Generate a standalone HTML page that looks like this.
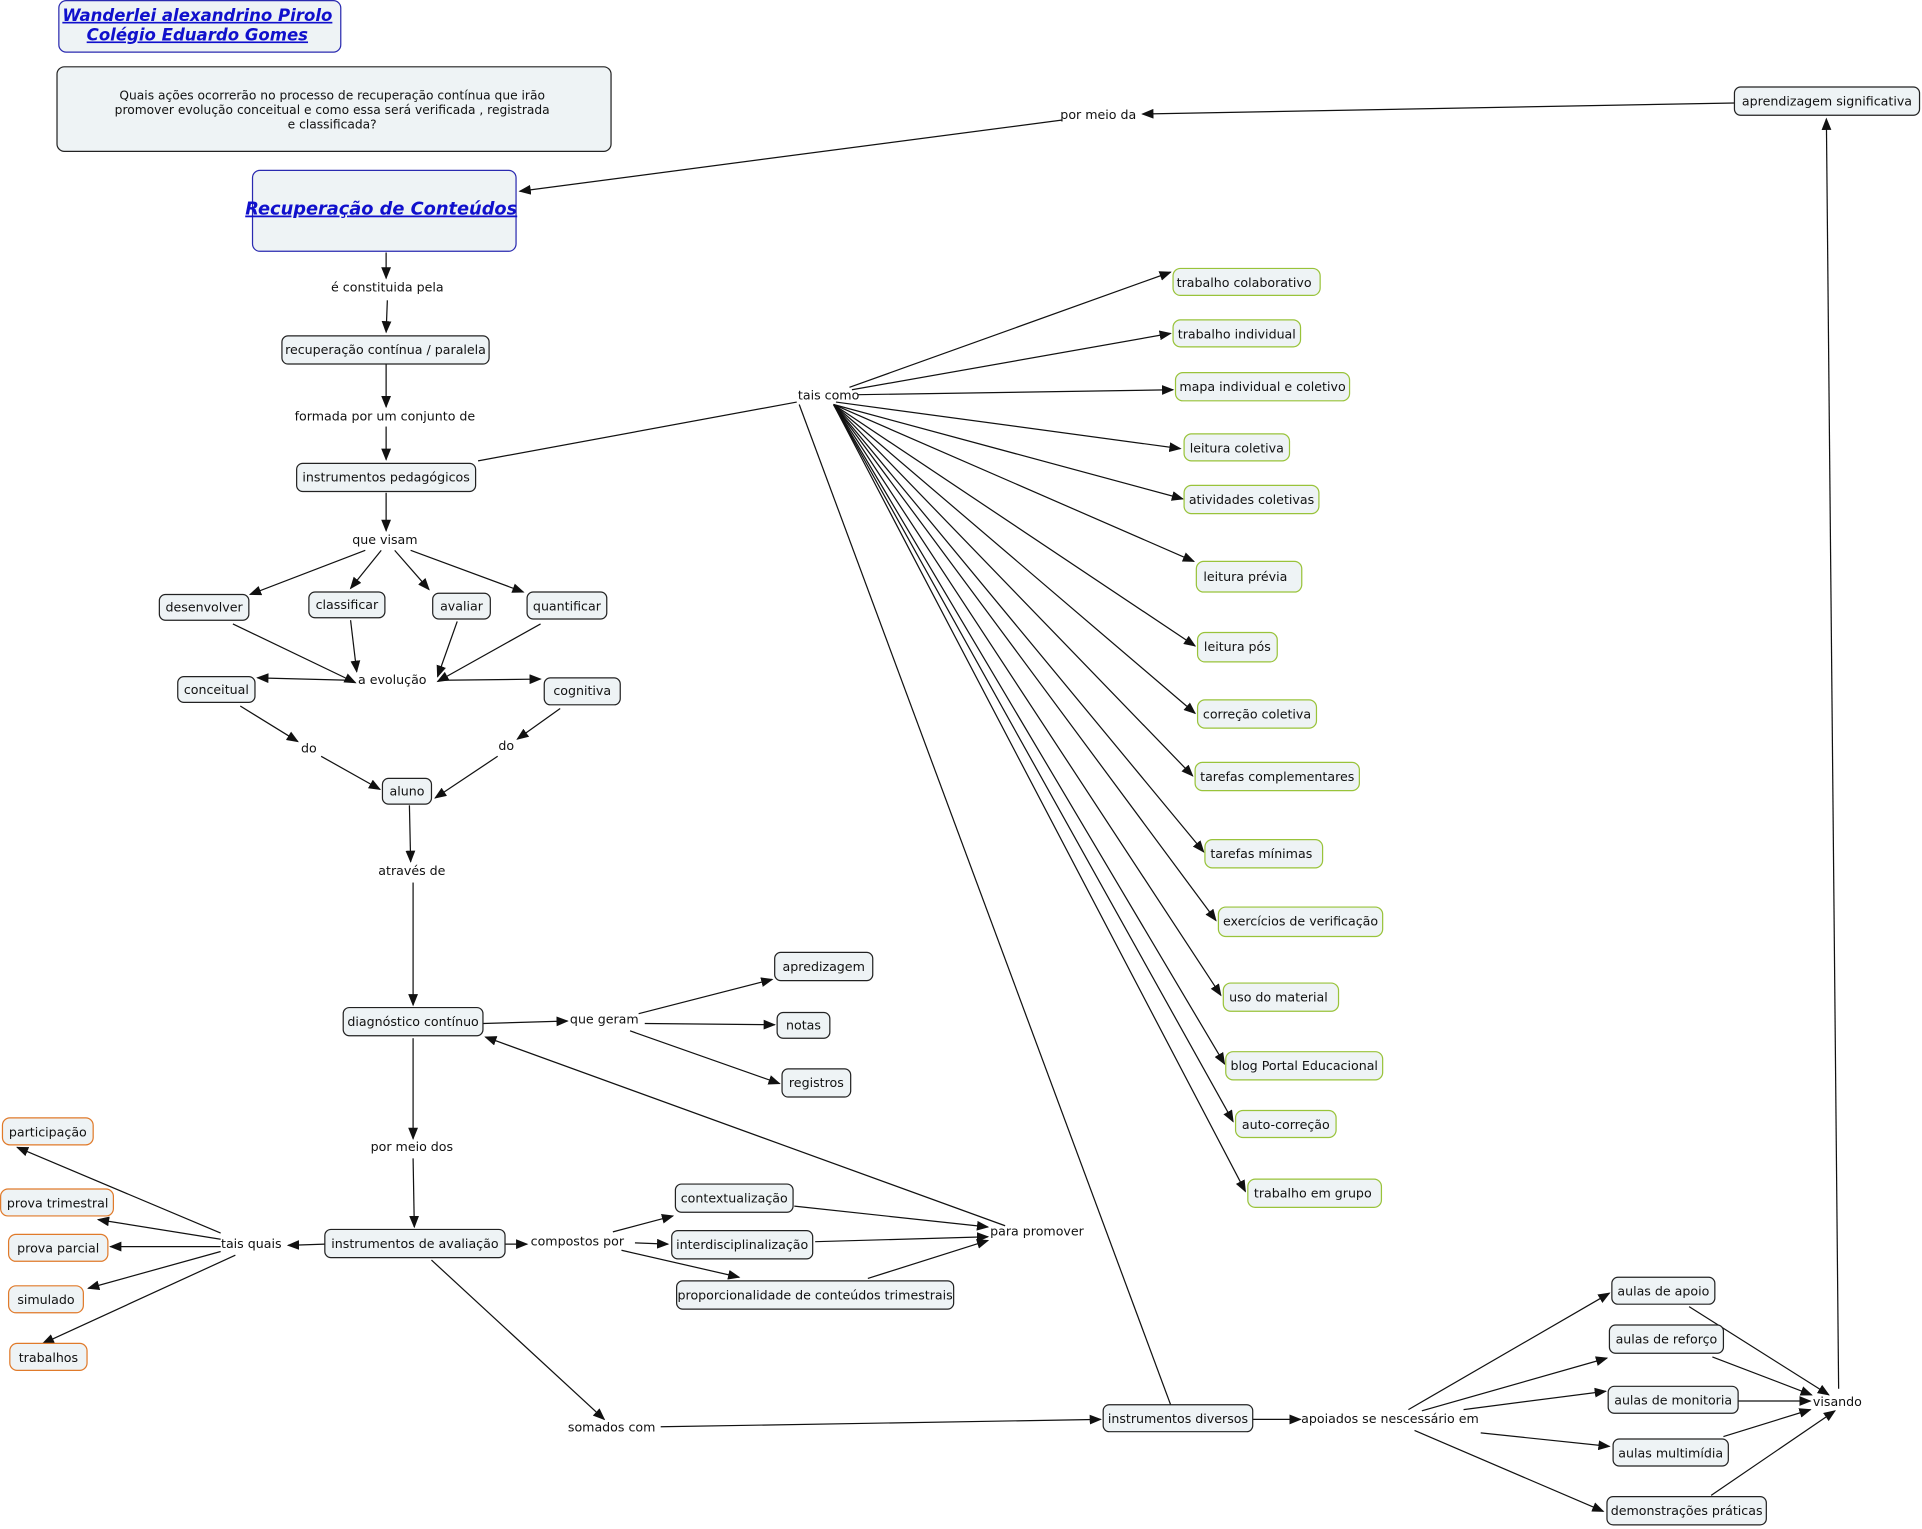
<!DOCTYPE html>
<html><head><meta charset="utf-8"><style>
html,body{margin:0;padding:0;background:#fff;}
svg{display:block;}
text{font-family:"DejaVu Sans","Liberation Sans",sans-serif;font-size:10.3px;fill:#111;}
.n{fill:#eef3f5;stroke:#222;stroke-width:1;}
.g{fill:#eef3f5;stroke:#99c33a;stroke-width:1;}
.o{fill:#eef3f5;stroke:#e07a2a;stroke-width:1;}
.b{fill:#eef3f5;stroke:#2a2ab0;stroke-width:1;}
line{stroke:#111;stroke-width:1;}
.a{marker-end:url(#ah);}
</style></head><body>
<svg width="1922" height="1529" viewBox="0 0 1568 1247.4" xmlns="http://www.w3.org/2000/svg">
<defs><marker id="ah" markerWidth="10" markerHeight="8" refX="9" refY="4" orient="auto" markerUnits="userSpaceOnUse"><path d="M0,0 L10,4 L0,8 z" fill="#111"/></marker></defs>
<g id="edges">
<line class="a" x1="1415" y1="84" x2="932" y2="93"/>
<line class="a" x1="866" y1="98" x2="424" y2="156"/>
<line class="a" x1="1500" y1="1133" x2="1490" y2="97"/>
<line class="a" x1="315" y1="206" x2="315" y2="227"/>
<line class="a" x1="316" y1="245" x2="315" y2="271"/>
<line class="a" x1="315" y1="297" x2="315" y2="332"/>
<line class="a" x1="315" y1="348" x2="315" y2="375"/>
<line class="a" x1="315" y1="402" x2="315" y2="433"/>
<line class="a" x1="298" y1="449" x2="204" y2="485"/>
<line class="a" x1="311" y1="449" x2="286" y2="480"/>
<line class="a" x1="322" y1="449" x2="350" y2="481"/>
<line class="a" x1="335" y1="449" x2="427" y2="483"/>
<line class="a" x1="190" y1="509" x2="290" y2="557"/>
<line class="a" x1="286" y1="506" x2="291" y2="548"/>
<line class="a" x1="373" y1="507" x2="357" y2="552"/>
<line class="a" x1="441" y1="509" x2="357" y2="556"/>
<line class="a" x1="285" y1="555" x2="210" y2="553"/>
<line class="a" x1="360" y1="555" x2="441" y2="554"/>
<line class="a" x1="196" y1="576" x2="243" y2="605"/>
<line class="a" x1="262" y1="617" x2="310" y2="644"/>
<line class="a" x1="457" y1="578" x2="422" y2="603"/>
<line class="a" x1="406" y1="617" x2="355" y2="651"/>
<line class="a" x1="334" y1="657" x2="335" y2="703"/>
<line class="a" x1="337" y1="720" x2="337" y2="820"/>
<line class="a" x1="394" y1="835" x2="463" y2="833"/>
<line class="a" x1="521" y1="827" x2="630" y2="799"/>
<line class="a" x1="526" y1="835" x2="632" y2="836"/>
<line class="a" x1="514" y1="841" x2="636" y2="884"/>
<line class="a" x1="337" y1="847" x2="337" y2="929"/>
<line class="a" x1="337" y1="945" x2="338" y2="1001"/>
<line class="a" x1="820" y1="1000" x2="396" y2="846"/>
<line class="a" x1="265" y1="1015" x2="235" y2="1016"/>
<line class="a" x1="180" y1="1006" x2="14" y2="936"/>
<line class="a" x1="180" y1="1011" x2="80" y2="995"/>
<line class="a" x1="180" y1="1017" x2="90" y2="1017"/>
<line class="a" x1="180" y1="1021" x2="72" y2="1051"/>
<line class="a" x1="192" y1="1024" x2="35" y2="1096"/>
<line class="a" x1="412" y1="1015" x2="430" y2="1015"/>
<line class="a" x1="500" y1="1005" x2="549" y2="992"/>
<line class="a" x1="518" y1="1014" x2="545" y2="1015"/>
<line class="a" x1="507" y1="1020" x2="603" y2="1042"/>
<line class="a" x1="648" y1="984" x2="806" y2="1001"/>
<line class="a" x1="665" y1="1013" x2="806" y2="1009"/>
<line class="a" x1="708" y1="1043" x2="806" y2="1012"/>
<line class="a" x1="352" y1="1028" x2="493" y2="1158"/>
<line class="a" x1="539" y1="1164" x2="898" y2="1158"/>
<line class="a" x1="1022" y1="1158" x2="1061" y2="1158"/>
<line class="a" x1="1149" y1="1150" x2="1313" y2="1055"/>
<line class="a" x1="1160" y1="1151" x2="1311" y2="1108"/>
<line class="a" x1="1194" y1="1150" x2="1310" y2="1135"/>
<line class="a" x1="1208" y1="1169" x2="1313" y2="1180"/>
<line class="a" x1="1154" y1="1167" x2="1308" y2="1233"/>
<line class="a" x1="1378" y1="1066" x2="1492" y2="1138"/>
<line class="a" x1="1397" y1="1107" x2="1478" y2="1138"/>
<line class="a" x1="1418" y1="1143" x2="1477" y2="1143"/>
<line class="a" x1="1406" y1="1172" x2="1477" y2="1150"/>
<line class="a" x1="1396" y1="1220" x2="1497" y2="1151"/>
<line x1="390" y1="376" x2="650" y2="328"/>
<line x1="955" y1="1146" x2="652" y2="330"/>
<line class="a" x1="693" y1="316" x2="955" y2="222"/>
<line class="a" x1="695" y1="318" x2="955" y2="272"/>
<line class="a" x1="700" y1="322" x2="957" y2="318"/>
<line class="a" x1="682" y1="328" x2="963" y2="366"/>
<line class="a" x1="680" y1="330" x2="965" y2="407"/>
<line class="a" x1="680" y1="330" x2="974" y2="458"/>
<line class="a" x1="680" y1="330" x2="975" y2="527"/>
<line class="a" x1="680" y1="330" x2="975" y2="582"/>
<line class="a" x1="680" y1="330" x2="973" y2="633"/>
<line class="a" x1="680" y1="330" x2="982" y2="695"/>
<line class="a" x1="680" y1="330" x2="992" y2="751"/>
<line class="a" x1="680" y1="330" x2="996" y2="812"/>
<line class="a" x1="680" y1="330" x2="999" y2="868"/>
<line class="a" x1="680" y1="330" x2="1006" y2="915"/>
<line class="a" x1="680" y1="330" x2="1016" y2="972"/>
</g>
<!-- title -->
<rect class="b" x="48" y="0.5" width="230" height="42" rx="6"/>
<text x="161" y="17" text-anchor="middle" style="font-size:13.5px;font-weight:bold;font-style:italic;text-decoration:underline;fill:#1010cc">Wanderlei alexandrino Pirolo</text>
<text x="161" y="33" text-anchor="middle" style="font-size:13.5px;font-weight:bold;font-style:italic;text-decoration:underline;fill:#1010cc">Colégio Eduardo Gomes</text>
<rect class="n" x="46.5" y="54.5" width="452" height="69" rx="6"/>
<text x="271" y="81" text-anchor="middle" style="font-size:10px">Quais ações ocorrerão no processo de recuperação contínua que irão</text>
<text x="271" y="93" text-anchor="middle" style="font-size:10px">promover evolução conceitual e como essa será verificada , registrada</text>
<text x="271" y="105" text-anchor="middle" style="font-size:10px">e classificada?</text>
<rect class="b" x="206" y="139" width="215" height="66" rx="6"/>
<text x="311" y="175" text-anchor="middle" style="font-size:14.5px;font-weight:bold;font-style:italic;text-decoration:underline;fill:#1010cc">Recuperação de Conteúdos</text>
<g id="labels" text-anchor="middle">
<text x="316" y="238">é constituida pela</text>
<text x="314" y="343">formada por um conjunto de</text>
<text x="314" y="444">que visam</text>
<text x="320" y="558">a evolução</text>
<text x="252" y="614">do</text>
<text x="413" y="612">do</text>
<text x="336" y="714">através de</text>
<text x="493" y="835">que geram</text>
<text x="336" y="939">por meio dos</text>
<text x="205" y="1018">tais quais</text>
<text x="471" y="1016">compostos por</text>
<text x="846" y="1008">para promover</text>
<text x="499" y="1168">somados com</text>
<text x="676" y="326">tais como</text>
<text x="896" y="97">por meio da</text>
<text x="1134" y="1161">apoiados se nescessário em</text>
<text x="1499" y="1147">visando</text>
</g>
<g id="nodes" text-anchor="middle">
<rect class="n" x="230" y="274" width="169" height="23" rx="5"/><text x="314.5" y="289">recuperação contínua / paralela</text>
<rect class="n" x="242" y="378" width="146" height="23" rx="5"/><text x="315" y="393">instrumentos pedagógicos</text>
<rect class="n" x="130" y="485" width="73" height="21" rx="5"/><text x="166.5" y="499">desenvolver</text>
<rect class="n" x="252" y="483" width="62" height="21" rx="5"/><text x="283" y="497">classificar</text>
<rect class="n" x="353" y="484" width="47" height="21" rx="5"/><text x="376.5" y="498">avaliar</text>
<rect class="n" x="430" y="483" width="65" height="22" rx="5"/><text x="462.5" y="498">quantificar</text>
<rect class="n" x="145" y="552" width="63" height="21" rx="5"/><text x="176.5" y="566">conceitual</text>
<rect class="n" x="444" y="553" width="62" height="22" rx="5"/><text x="475" y="567">cognitiva</text>
<rect class="n" x="312" y="635" width="40" height="21" rx="5"/><text x="332" y="649">aluno</text>
<rect class="n" x="280" y="822" width="114" height="23" rx="5"/><text x="337" y="837">diagnóstico contínuo</text>
<rect class="n" x="632" y="777" width="80" height="23" rx="5"/><text x="672" y="792">apredizagem</text>
<rect class="n" x="634" y="826" width="43" height="21" rx="5"/><text x="655.5" y="840">notas</text>
<rect class="n" x="638" y="872" width="56" height="23" rx="5"/><text x="666" y="887">registros</text>
<rect class="o" x="2" y="912" width="74" height="22" rx="6"/><text x="39" y="927">participação</text>
<rect class="o" x="0.5" y="970" width="92" height="22" rx="6"/><text x="47" y="985">prova trimestral</text>
<rect class="o" x="7" y="1007" width="81" height="22" rx="6"/><text x="47.5" y="1022">prova parcial</text>
<rect class="o" x="7" y="1049" width="61" height="22" rx="6"/><text x="37.5" y="1064">simulado</text>
<rect class="o" x="8" y="1096" width="63" height="22" rx="6"/><text x="39.5" y="1111">trabalhos</text>
<rect class="n" x="265" y="1003" width="147" height="23" rx="5"/><text x="338.5" y="1018">instrumentos de avaliação</text>
<rect class="n" x="551" y="966" width="96" height="23" rx="5"/><text x="599" y="981">contextualização</text>
<rect class="n" x="548" y="1004" width="115" height="23" rx="5"/><text x="605.5" y="1019">interdisciplinalização</text>
<rect class="n" x="552" y="1045" width="226" height="23" rx="5"/><text x="665" y="1060">proporcionalidade de conteúdos trimestrais</text>
<rect class="n" x="900" y="1146" width="122" height="22" rx="5"/><text x="961" y="1161">instrumentos diversos</text>
<rect class="n" x="1415" y="71" width="151" height="23" rx="5"/><text x="1490.5" y="86">aprendizagem significativa</text>
<rect class="g" x="957" y="219" width="120" height="22" rx="6"/><text x="1015" y="234">trabalho colaborativo</text>
<rect class="g" x="957" y="261" width="104" height="22" rx="6"/><text x="1009" y="276">trabalho individual</text>
<rect class="g" x="959" y="304" width="142" height="23" rx="6"/><text x="1030" y="319">mapa individual e coletivo</text>
<rect class="g" x="966" y="354" width="86" height="22" rx="6"/><text x="1009" y="369">leitura coletiva</text>
<rect class="g" x="966" y="396" width="110" height="23" rx="6"/><text x="1021" y="411">atividades coletivas</text>
<rect class="g" x="976" y="458" width="86" height="25" rx="6"/><text x="1016" y="474">leitura prévia</text>
<rect class="g" x="977" y="516" width="65" height="24" rx="6"/><text x="1009.5" y="531">leitura pós</text>
<rect class="g" x="977" y="571" width="97" height="23" rx="6"/><text x="1025.5" y="586">correção coletiva</text>
<rect class="g" x="975" y="622" width="134" height="23" rx="6"/><text x="1042" y="637">tarefas complementares</text>
<rect class="g" x="983" y="685" width="96" height="23" rx="6"/><text x="1029" y="700">tarefas mínimas</text>
<rect class="g" x="994" y="740" width="134" height="24" rx="6"/><text x="1061" y="755">exercícios de verificação</text>
<rect class="g" x="998" y="802" width="94" height="23" rx="6"/><text x="1043" y="817">uso do material</text>
<rect class="g" x="1000" y="858" width="128" height="23" rx="6"/><text x="1064" y="873">blog Portal Educacional</text>
<rect class="g" x="1008" y="906" width="82" height="22" rx="6"/><text x="1049" y="921">auto-correção</text>
<rect class="g" x="1018" y="962" width="109" height="23" rx="6"/><text x="1071" y="977">trabalho em grupo</text>
<rect class="n" x="1315" y="1042" width="84" height="22" rx="5"/><text x="1357" y="1057">aulas de apoio</text>
<rect class="n" x="1313" y="1081" width="93" height="23" rx="5"/><text x="1359.5" y="1096">aulas de reforço</text>
<rect class="n" x="1312" y="1131" width="106" height="22" rx="5"/><text x="1365" y="1146">aulas de monitoria</text>
<rect class="n" x="1316" y="1174" width="94" height="22" rx="5"/><text x="1363" y="1189">aulas multimídia</text>
<rect class="n" x="1311" y="1221" width="130" height="23" rx="5"/><text x="1376" y="1236">demonstrações práticas</text>
</g>
</svg>
</body></html>
